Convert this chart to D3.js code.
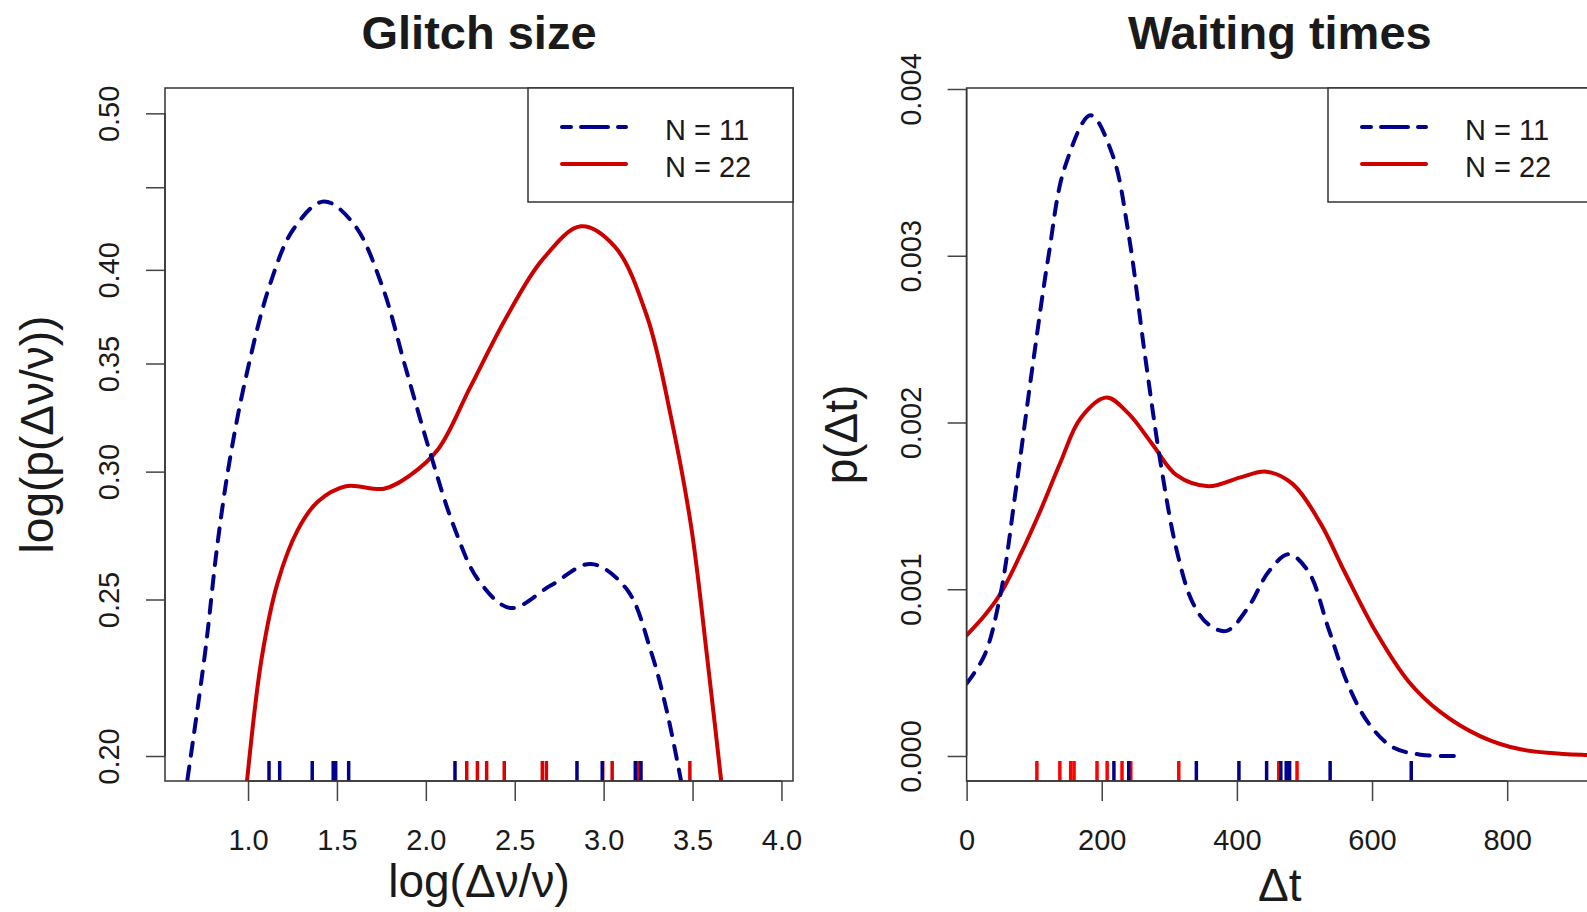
<!DOCTYPE html>
<html>
<head>
<meta charset="utf-8">
<script src="https://cdn.jsdelivr.net/npm/d3@7"></script>
<style>
  body { margin: 0; background: #fff; }
  text { font-family: "Liberation Sans", Arial, Helvetica, sans-serif; fill: #1a1a1a; }
</style>
</head>
<body>
<svg id="chart" width="1587" height="912"></svg>
<script>
// ---- Glitch size panel (log y) ----
var glitchBlueX = [0.64, 0.759, 0.827, 0.895, 0.985, 1.121, 1.256, 1.426, 1.595, 1.754, 1.889, 2.025, 2.160, 2.296, 2.476, 2.702, 2.929, 3.132, 3.267, 3.358, 3.455];
var glitchBlueY = [0.187, 0.232, 0.270, 0.304, 0.342, 0.391, 0.424, 0.441, 0.427, 0.391, 0.347, 0.308, 0.277, 0.257, 0.247, 0.255, 0.263, 0.2535, 0.232, 0.2126, 0.188];
var glitchRedX = [0.98, 1.075, 1.166, 1.279, 1.392, 1.550, 1.765, 1.911, 2.070, 2.250, 2.454, 2.657, 2.872, 3.064, 3.245, 3.380, 3.493, 3.584, 3.68];
var glitchRedY = [0.186, 0.2293, 0.256, 0.276, 0.2874, 0.2938, 0.2928, 0.2984, 0.3098, 0.3384, 0.374, 0.406, 0.4256, 0.4133, 0.374, 0.3238, 0.277, 0.2293, 0.185];
var glitchRugBlue = [1.118, 1.178, 1.361, 1.479, 1.493, 1.566, 2.164, 2.850, 2.992, 3.178, 3.210];
var glitchRugRed = [2.230, 2.290, 2.342, 2.441, 2.655, 2.678, 2.995, 3.048, 3.197, 3.485];
var glitchXTicks = [1.0, 1.5, 2.0, 2.5, 3.0, 3.5, 4.0];
var glitchXLabels = ['1.0', '1.5', '2.0', '2.5', '3.0', '3.5', '4.0'];
var glitchYTicks = [0.20, 0.25, 0.30, 0.35, 0.40, 0.45, 0.50];
var glitchYLabels = ['0.20', '0.25', '0.30', '0.35', '0.40', '', '0.50'];

// ---- Waiting times panel ----
var waitBlueX = [0, 26.6, 50.3, 74, 97.7, 121.3, 145, 183.5, 216, 239.7, 263.4, 287, 310.7, 334.4, 358, 384.7, 417.3, 446.9, 476.5, 506, 535.6, 565.2, 594.8, 630.4, 671.8, 731];
var waitBlueY = [0.000434, 0.000605, 0.000974, 0.00163, 0.00234, 0.0030, 0.003526, 0.003842, 0.003605, 0.00313, 0.00242, 0.00176, 0.001237, 0.000921, 0.000789, 0.00075, 0.000895, 0.001105, 0.00121, 0.001105, 0.000763, 0.000421, 0.000197, 0.000053, 0.000008, 0];
var waitRedX = [0, 26.6, 50.3, 79.9, 109.5, 139.1, 168.7, 207.2, 239.7, 275.2, 310.7, 358, 405.4, 443.9, 482.4, 523.8, 559.3, 606.7, 654, 701.4, 760.6, 819.8, 919.2, 960];
var waitRedY = [0.000724, 0.000842, 0.000974, 0.00121, 0.001474, 0.001763, 0.002026, 0.00215, 0.002053, 0.001868, 0.001684, 0.001618, 0.001671, 0.001705, 0.001632, 0.001395, 0.001105, 0.000737, 0.000447, 0.000263, 0.000118, 0.00004, 0.000005, 0.000003];
var waitRugBlue = [218, 240, 340, 403, 444, 465, 473, 478, 538, 658];
var waitRugRed = [104, 138, 154, 159, 193, 208, 230, 243, 314, 462, 489];
var waitXTicks = [0, 200, 400, 600, 800];
var waitXLabels = ['0', '200', '400', '600', '800'];
var waitYTicks = [0, 0.001, 0.002, 0.003, 0.004];
var waitYLabels = ['0.000', '0.001', '0.002', '0.003', '0.004'];

var legendLabels = ['N = 11', 'N = 22'];

var BLUE = '#00008b', RED = '#cd0000';

var svg = d3.select('#chart');

function zip(xs, ys) {
  return xs.map(function(v, i) { return [v, ys[i]]; });
}

function drawPanel(p) {
  var g = svg.append('g');
  var x = d3.scaleLinear().domain(p.xDomain).range([p.left, p.right]);
  var y = (p.logY ? d3.scaleLog() : d3.scaleLinear()).domain(p.yDomain).range([p.bottom, p.top]);

  svg.append('clipPath').attr('id', 'clip' + p.id)
    .append('rect')
      .attr('x', p.left).attr('y', p.top)
      .attr('width', p.right - p.left).attr('height', p.bottom - p.top);

  // rugs: red first, blue on top
  [[p.rugRed, p.rugRedColor], [p.rugBlue, BLUE]].forEach(function(r) {
    g.append('g').selectAll('line').data(r[0]).enter().append('line')
      .attr('x1', function(d) { return x(d); }).attr('x2', function(d) { return x(d); })
      .attr('y1', p.bottom).attr('y2', p.bottom - 20)
      .attr('stroke', r[1]).attr('stroke-width', 3.5);
  });

  var line = d3.line()
    .x(function(d) { return x(d[0]); })
    .y(function(d) { return y(d[1]); })
    .curve(d3.curveCatmullRom.alpha(0.5));

  var curves = g.append('g').attr('clip-path', 'url(#clip' + p.id + ')');
  curves.append('path').datum(zip(p.redX, p.redY))
    .attr('d', line).attr('fill', 'none')
    .attr('stroke', RED).attr('stroke-width', 4).attr('stroke-linecap', 'round');
  curves.append('path').datum(zip(p.blueX, p.blueY))
    .attr('d', line).attr('fill', 'none')
    .attr('stroke', BLUE).attr('stroke-width', 4)
    .attr('stroke-dasharray', '13,11').attr('stroke-linecap', 'round');

  // x axis (R style: line from first to last tick)
  var xa = g.append('g').attr('transform', 'translate(0,' + p.bottom + ')')
    .call(d3.axisBottom(x).tickValues(p.xTicks).tickSize(20).tickSizeOuter(0)
      .tickFormat(function(d, i) { return p.xLabels[i]; }));
  xa.select('.domain').remove();
  xa.append('line')
    .attr('x1', x(p.xTicks[0])).attr('x2', x(p.xTicks[p.xTicks.length - 1]))
    .attr('stroke', '#444').attr('stroke-width', 1.5);
  xa.selectAll('.tick line').attr('stroke', '#444').attr('stroke-width', 1.5);
  xa.selectAll('.tick text')
    .attr('y', 59).attr('dy', '0.36em')
    .attr('font-size', 29).attr('font-family', null).attr('fill', '#1a1a1a');

  var ya = g.append('g').attr('transform', 'translate(' + p.left + ',0)')
    .call(d3.axisLeft(y).tickValues(p.yTicks).tickSize(19).tickSizeOuter(0)
      .tickFormat(function(d, i) { return p.yLabels[i]; }));
  ya.select('.domain').remove();
  ya.append('line')
    .attr('y1', y(p.yTicks[0])).attr('y2', y(p.yTicks[p.yTicks.length - 1]))
    .attr('stroke', '#444').attr('stroke-width', 1.5);
  ya.selectAll('.tick line').attr('stroke', '#444').attr('stroke-width', 1.5);
  ya.selectAll('.tick text')
    .attr('x', 0).attr('y', -46).attr('dy', 0)
    .attr('transform', 'rotate(-90)').attr('text-anchor', 'middle')
    .attr('font-size', 29).attr('font-family', null).attr('fill', '#1a1a1a');

  // box
  g.append('rect')
    .attr('x', p.left).attr('y', p.top)
    .attr('width', p.right - p.left).attr('height', p.bottom - p.top)
    .attr('fill', 'none').attr('stroke', '#333').attr('stroke-width', 1.5);

  // legend
  var lg = g.append('g');
  lg.append('rect')
    .attr('x', p.legendLeft).attr('y', p.top)
    .attr('width', p.right - p.legendLeft).attr('height', 114)
    .attr('fill', '#fff').attr('stroke', '#333').attr('stroke-width', 1.5);
  lg.append('line')
    .attr('x1', p.legendLeft + 34).attr('x2', p.legendLeft + 98)
    .attr('y1', 127).attr('y2', 127)
    .attr('stroke', BLUE).attr('stroke-width', 4).attr('stroke-linecap', 'round')
    .attr('stroke-dasharray', '9,10,27,10,8,100');
  lg.append('line')
    .attr('x1', p.legendLeft + 34).attr('x2', p.legendLeft + 98)
    .attr('y1', 164).attr('y2', 164)
    .attr('stroke', RED).attr('stroke-width', 4).attr('stroke-linecap', 'round');
  lg.selectAll('text.leg').data(legendLabels).enter().append('text')
    .attr('class', 'leg')
    .attr('x', p.legendLeft + 137)
    .attr('y', function(d, i) { return 130 + i * 37; })
    .attr('dy', '0.36em').attr('font-size', 29)
    .text(function(d) { return d; });

  // titles
  var cx = (p.left + p.right) / 2, cy = (p.top + p.bottom) / 2;
  g.append('text').attr('x', cx).attr('y', 32).attr('dy', '0.36em')
    .attr('text-anchor', 'middle').attr('font-size', 47).attr('font-weight', 'bold')
    .text(p.title);
  g.append('text').attr('x', cx).attr('y', p.xTitleY).attr('dy', '0.36em')
    .attr('text-anchor', 'middle').attr('font-size', 46)
    .text(p.xTitle);
  g.append('text')
    .attr('transform', 'translate(' + p.yTitleX + ',' + cy + ') rotate(-90)')
    .attr('dy', '0.36em').attr('text-anchor', 'middle').attr('font-size', 46)
    .text(p.yTitle);
}

drawPanel({
  id: 'a', logY: true,
  left: 165, right: 793, top: 88, bottom: 781,
  xDomain: [0.533, 4.065], yDomain: [0.193, 0.5184],
  blueX: glitchBlueX, blueY: glitchBlueY, redX: glitchRedX, redY: glitchRedY,
  rugBlue: glitchRugBlue, rugRed: glitchRugRed, rugRedColor: '#dd0000',
  xTicks: glitchXTicks, xLabels: glitchXLabels,
  yTicks: glitchYTicks, yLabels: glitchYLabels,
  legendLeft: 528,
  title: 'Glitch size', xTitle: 'log(\u0394\u03bd/\u03bd)', yTitle: 'log(p(\u0394\u03bd/\u03bd))',
  xTitleY: 880, yTitleX: 36
});

drawPanel({
  id: 'b', logY: false,
  left: 966.6, right: 1593, top: 88, bottom: 781,
  xDomain: [0, 927], yDomain: [-0.00015, 0.004006],
  blueX: waitBlueX, blueY: waitBlueY, redX: waitRedX, redY: waitRedY,
  rugBlue: waitRugBlue, rugRed: waitRugRed, rugRedColor: '#ff0000',
  xTicks: waitXTicks, xLabels: waitXLabels,
  yTicks: waitYTicks, yLabels: waitYLabels,
  legendLeft: 1328,
  title: 'Waiting times', xTitle: '\u0394t', yTitle: 'p(\u0394t)',
  xTitleY: 884, yTitleX: 840
});
</script>
</body>
</html>
